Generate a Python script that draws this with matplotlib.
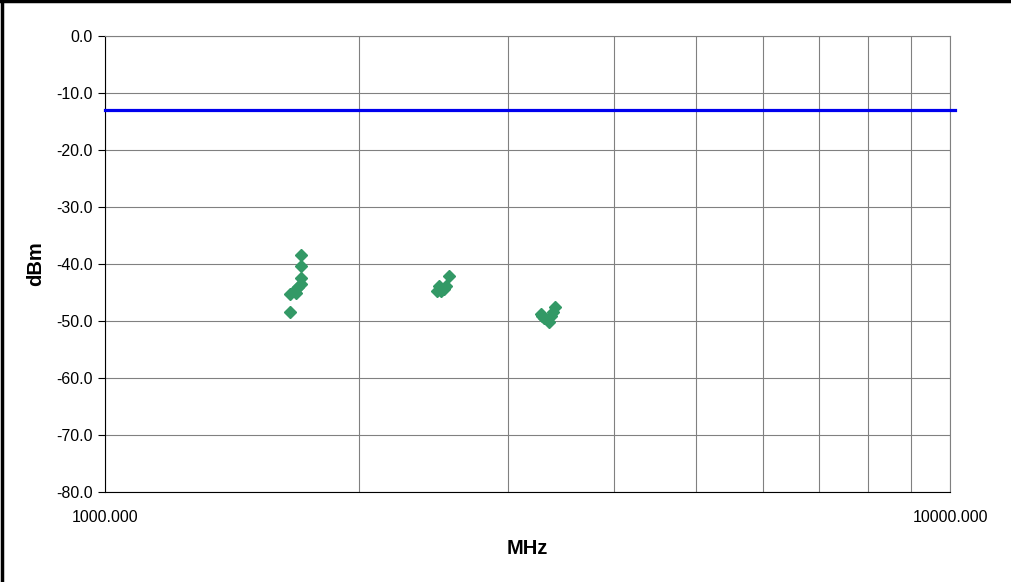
import matplotlib
matplotlib.use("Agg")
import matplotlib.pyplot as plt
from matplotlib.ticker import FixedLocator, NullFormatter, FuncFormatter
from matplotlib.lines import Line2D

plt.rcParams['font.family'] = ['Liberation Sans', 'DejaVu Sans']

# Measured emissions (MHz, dBm)
freq_mhz = [1706, 1706, 1706, 1706, 1690, 1676, 1656, 1683, 1656,
            2554, 2533, 2512, 2486, 2472, 2498, 2520,
            3409, 3392, 3281, 3308, 3353, 3372, 3290]
level_dbm = [-38.4, -40.3, -42.4, -43.5, -44.0, -44.6, -45.2, -45.1, -48.5,
             -42.1, -43.8, -44.3, -43.9, -44.8, -44.8, -44.4,
             -47.5, -48.4, -48.8, -49.5, -50.1, -49.2, -49.1]

# Limit line
limit_freqs = [1000, 10140]
limit_dbm = [-13.0, -13.0]

y_ticks = [0, -10, -20, -30, -40, -50, -60, -70, -80]
x_major = [1000, 10000]
x_minor = [2000, 3000, 4000, 5000, 6000, 7000, 8000, 9000]

fig = plt.figure(figsize=(10.11, 5.82), dpi=100)
ax = fig.add_axes([105 / 1011, 1 - 492 / 582, 845 / 1011, 456 / 582])

ax.set_xscale('log')
ax.set_xlim(1000, 10000)
ax.set_ylim(-80, 0)

ax.xaxis.set_major_locator(FixedLocator(x_major))
ax.xaxis.set_minor_locator(FixedLocator(x_minor))
ax.xaxis.set_major_formatter(FuncFormatter(lambda v, p: f"{v:.3f}"))
ax.xaxis.set_minor_formatter(NullFormatter())
ax.set_yticks(y_ticks)
ax.yaxis.set_major_formatter(FuncFormatter(lambda v, p: f"{v:.1f}"))

ax.grid(True, which='both', axis='x', color='#808080', linewidth=0.8)
ax.grid(True, which='major', axis='y', color='#808080', linewidth=0.8)
ax.set_axisbelow(True)

ax.tick_params(axis='x', which='both', length=0, pad=13, labelsize=11.5)
ax.tick_params(axis='y', length=5, width=0.8, direction='out', pad=4, labelsize=11.5)

for side in ('top', 'right'):
    ax.spines[side].set_color('#808080')
    ax.spines[side].set_linewidth(0.8)
for side in ('left', 'bottom'):
    ax.spines[side].set_color('black')
    ax.spines[side].set_linewidth(0.8)

ax.plot(limit_freqs, limit_dbm, color='#0000EE', linewidth=2.3,
        clip_on=False, zorder=3)
ax.plot(freq_mhz, level_dbm, linestyle='none', marker='D', markersize=6.5,
        color='#339966', markeredgecolor='#339966', zorder=4)

ax.set_xlabel('MHz', fontsize=14.5, fontweight='bold', labelpad=10)
ax.set_ylabel('dBm', fontsize=14.5, fontweight='bold', labelpad=8)

# Outer frame on top and left edges
fig.add_artist(Line2D([0.0015, 0.0015], [0, 1], color='black', linewidth=2.5,
                      transform=fig.transFigure))
fig.add_artist(Line2D([0, 1], [0.9975, 0.9975], color='black', linewidth=2.5,
                      transform=fig.transFigure))

fig.savefig('out.png', dpi=100)
